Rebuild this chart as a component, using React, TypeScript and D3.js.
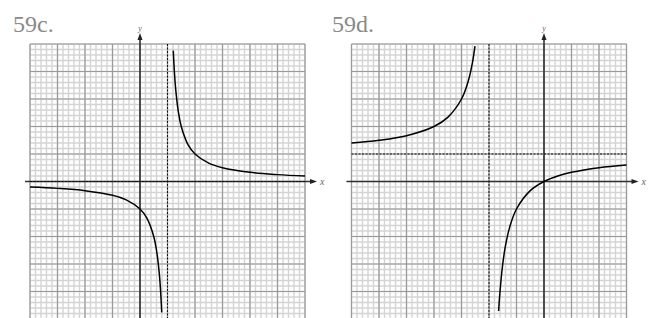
import React from 'react';
import * as d3 from 'd3';

// 59c: points (two branches around x = 1)
const cLeftX = [-4, -3, -2, -1, -0.5, 0, 0.25, 0.5, 0.6, 0.7, 0.75, 0.79];
const cLeftY = [-0.2, -0.25, -0.333, -0.5, -0.667, -1, -1.333, -2, -2.5, -3.333, -4, -4.76];
const cRightX = [1.21, 1.25, 1.3, 1.4, 1.5, 1.75, 2, 2.5, 3, 4, 5, 6];
const cRightY = [4.76, 4, 3.333, 2.5, 2, 1.333, 1, 0.667, 0.5, 0.333, 0.25, 0.2];

// 59d: points (two branches around x = -2)
const dLeftX = [-7, -6, -5, -4, -3.5, -3, -2.75, -2.6, -2.51];
const dLeftY = [1.4, 1.5, 1.667, 2, 2.333, 3, 3.667, 4.333, 4.92];
const dRightX = [-1.65, -1.6, -1.5, -1.4, -1.25, -1, -0.5, 0, 0.5, 1, 2, 3];
const dRightY = [-4.71, -4, -3, -2.333, -1.667, -1, -0.333, 0, 0.2, 0.333, 0.5, 0.6];

const panels = [
  {
    title: '59c.', titleX: 13, xDomain: [-4, 6], left: 30,
    vAsym: 1, hAsym: 0,
    branches: [[cLeftX, cLeftY], [cRightX, cRightY]],
  },
  {
    title: '59d.', titleX: 332, xDomain: [-7, 3], left: 351.5,
    vAsym: -2, hAsym: 1,
    branches: [[dLeftX, dLeftY], [dRightX, dRightY]],
  },
];

const size = 275;
const top = 44;

function Panel({ p }: { p: any }) {
  const x = d3.scaleLinear().domain(p.xDomain).range([p.left, p.left + size]);
  const y = d3.scaleLinear().domain([-5, 5]).range([top + size, top]);
  const minor = d3.range(p.xDomain[0], p.xDomain[1] + 0.001, 0.2);
  const minorY = d3.range(-5, 5.001, 0.2);
  const major = d3.range(p.xDomain[0], p.xDomain[1] + 0.001, 1);
  const majorY = d3.range(-5, 6, 1);
  const line = d3.line<[number, number]>()
    .x(d => x(d[0]))
    .y(d => y(d[1]))
    .curve(d3.curveCatmullRom.alpha(0.5));
  const x0 = x(0), y0 = y(0);
  const [xa, xb] = x.range();
  return (
    <g>
      <text x={p.titleX} y={32} fontFamily="Liberation Serif" fontSize={24} fill="#8a8a8a">{p.title}</text>
      {minor.map((v, i) => <line key={'mx' + i} x1={x(v)} x2={x(v)} y1={top} y2={top + size} stroke="#d4d4d4" strokeWidth={1.4} />)}
      {minorY.map((v, i) => <line key={'my' + i} x1={xa} x2={xb} y1={y(v)} y2={y(v)} stroke="#d4d4d4" strokeWidth={1.4} />)}
      {major.map((v, i) => <line key={'Mx' + i} x1={x(v)} x2={x(v)} y1={top} y2={top + size} stroke="#9a9a9a" strokeWidth={1.2} />)}
      {majorY.map((v, i) => <line key={'My' + i} x1={xa} x2={xb} y1={y(v)} y2={y(v)} stroke="#9a9a9a" strokeWidth={1.2} />)}
      {/* axes */}
      <line x1={xa - 5} x2={xb + 7} y1={y0} y2={y0} stroke="#333" strokeWidth={1.4} />
      <path d={`M${xb + 12},${y0} L${xb + 5},${y0 - 2.5} L${xb + 5},${y0 + 2.5} Z`} fill="#222" />
      <text x={xb + 15} y={y0 + 3} fontFamily="Liberation Serif" fontStyle="italic" fontSize={10} fill="#666">x</text>
      <line x1={x0} x2={x0} y1={top + size} y2={top - 6} stroke="#333" strokeWidth={1.6} />
      <path d={`M${x0},${top - 11} L${x0 - 2.5},${top - 4} L${x0 + 2.5},${top - 4} Z`} fill="#222" />
      <text x={x0} y={top - 13} textAnchor="middle" fontFamily="Liberation Serif" fontStyle="italic" fontSize={8} fill="#666">y</text>
      {/* asymptotes */}
      <line x1={x(p.vAsym)} x2={x(p.vAsym)} y1={top} y2={top + size} stroke="#111" strokeWidth={1} strokeDasharray="2,1.5" />
      <line x1={xa} x2={xb} y1={y(p.hAsym)} y2={y(p.hAsym)} stroke="#111" strokeWidth={1} strokeDasharray="2,1.5" />
      {p.branches.map((b: number[][], i: number) => (
        <path key={i} d={line(b[0].map((v, j) => [v, b[1][j]] as [number, number])) || ''}
          fill="none" stroke="#000" strokeWidth={1.5} />
      ))}
    </g>
  );
}

export default function App() {
  return (
    <svg width={654} height={318} style={{ position: 'absolute', left: 0, top: 0, background: '#fff' }}>
      {panels.map(p => <Panel key={p.title} p={p} />)}
    </svg>
  );
}
